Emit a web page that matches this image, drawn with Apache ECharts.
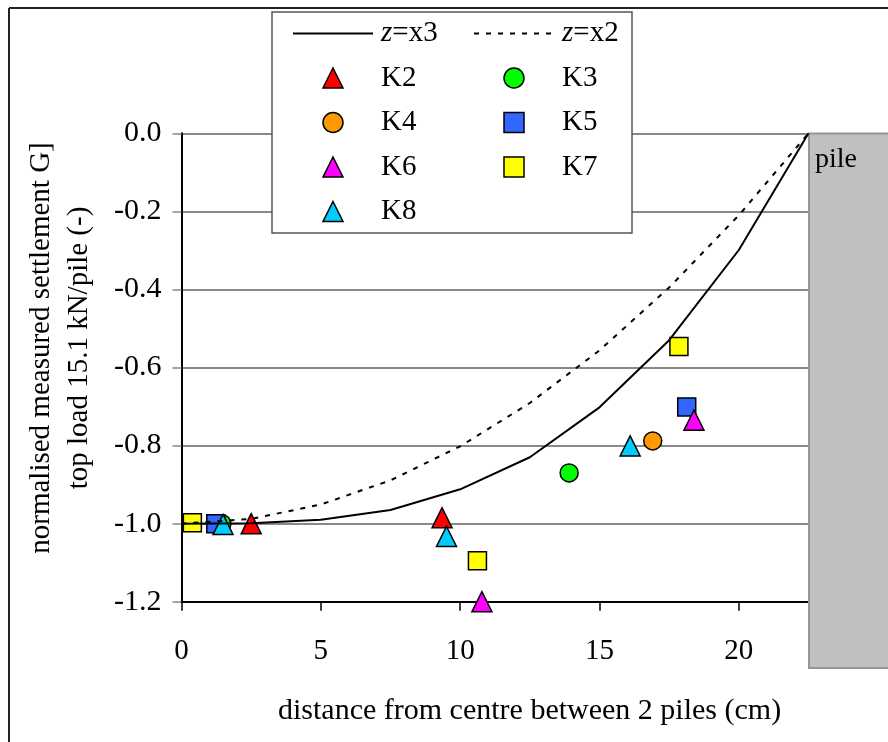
<!DOCTYPE html>
<html>
<head>
<meta charset="utf-8">
<script src="https://cdn.jsdelivr.net/npm/echarts@6/dist/echarts.min.js"></script>
<style>
  html, body { margin: 0; padding: 0; background: #fff; }
  #chart { width: 888px; height: 742px; }
</style>
</head>
<body>
<div id="chart"></div>
<script>
// theoretical curves, normalised settlement vs distance
var curveX = [0, 2.5, 5, 7.5, 10, 12.5, 15, 17.5, 20, 22.5];
var zx3 = [-1.0, -0.999, -0.99, -0.965, -0.912, -0.83, -0.702, -0.53, -0.299, 0.0];
var zx2 = [-1.0, -0.988, -0.951, -0.889, -0.802, -0.691, -0.556, -0.395, -0.21, 0.0];

// measured points [distance, settlement]
var k2 = [[2.5, -1.0], [9.35, -0.985]];
var k3 = [[1.45, -1.0], [13.91, -0.87]];
var k4 = [[16.91, -0.788]];
var k5 = [[1.23, -1.0], [18.13, -0.701]];
var k6 = [[10.78, -1.2], [18.39, -0.735]];
var k7 = [[0.39, -0.998], [10.62, -1.095], [17.85, -0.546]];
var k8 = [[1.49, -1.002], [9.51, -1.033], [16.1, -0.801]];

var xTicks = [0, 5, 10, 15, 20];

var chart = echarts.init(document.getElementById('chart'));

var serif = '"Liberation Serif", "Times New Roman", serif';

// legend icons as paths so they keep their aspect in the wide icon box
var triIcon = 'path://M10,0L20,20L0,20Z';
var sqIcon = 'path://M0,0L20,0L20,20L0,20Z';

function pair(xs, ys) {
  var out = [];
  for (var i = 0; i < xs.length; i++) out.push([xs[i], ys[i]]);
  return out;
}

function pts(name, data, symbol, size, color) {
  return {
    name: name,
    type: 'scatter',
    data: data,
    symbol: symbol,
    symbolSize: size,
    itemStyle: { color: color, borderColor: '#000', borderWidth: 1.5, opacity: 1 },
    emphasis: { disabled: true }
  };
}

var legendText = {
  fontFamily: serif,
  fontSize: 29,
  lineHeight: 28,
  color: '#000',
  padding: [0, 0, 0, 3],
  rich: { i: { fontFamily: serif, fontSize: 29, fontStyle: 'italic', color: '#000' } }
};

function legendFmt(name) {
  if (name.charAt(0) === 'z') return '{i|z}=' + name.slice(2);
  return name;
}

// line entries: hide the default marker, keep the line
function lineItem(name) {
  return { name: name, itemStyle: { opacity: 0, borderWidth: 0 } };
}

function iconItem(name, icon) {
  return { name: name, icon: icon };
}

var option = {
  animation: false,
  backgroundColor: '#fff',
  grid: { left: 181.5, top: 133.3, right: 79.5, bottom: 140.3, containLabel: false },
  legend: [
    {
      orient: 'vertical', left: 292, top: 19, z: 6,
      itemWidth: 80, itemHeight: 20, itemGap: 15.5, padding: 0,
      symbolKeepAspect: true,
      data: [lineItem('z=x3'), iconItem('K2', triIcon), 'K4', iconItem('K6', triIcon), iconItem('K8', triIcon)],
      formatter: legendFmt, textStyle: legendText,
      itemStyle: { borderColor: '#000', borderWidth: 1.5 },
      selectedMode: false
    },
    {
      orient: 'vertical', left: 473, top: 19, z: 6,
      itemWidth: 80, itemHeight: 20, itemGap: 15.5, padding: 0,
      symbolKeepAspect: true,
      data: [lineItem('z=x2'), 'K3', iconItem('K5', sqIcon), iconItem('K7', sqIcon)],
      formatter: legendFmt, textStyle: legendText,
      itemStyle: { borderColor: '#000', borderWidth: 1.5 },
      selectedMode: false
    }
  ],
  xAxis: {
    type: 'value', min: 0, max: 22.5, interval: 5,
    axisLine: { show: true, onZero: false, lineStyle: { color: '#000', width: 2 } },
    axisTick: { show: true, length: 9, customValues: xTicks, lineStyle: { color: '#000', width: 1.5 } },
    axisLabel: { customValues: xTicks, margin: 35, fontFamily: serif, fontSize: 29, color: '#000' },
    splitLine: { show: false }
  },
  yAxis: {
    type: 'value', min: -1.2, max: 0, interval: 0.2,
    axisLine: { show: true, onZero: false, lineStyle: { color: '#000', width: 2 } },
    axisTick: { show: true, length: 9, lineStyle: { color: '#888', width: 1.5 } },
    axisLabel: {
      margin: 20, fontFamily: serif, fontSize: 30, color: '#000',
      formatter: function (v) { return v.toFixed(1); }
    },
    splitLine: { show: true, lineStyle: { color: '#888', width: 2 } }
  },
  series: [
    {
      name: 'z=x3', type: 'line', data: pair(curveX, zx3), symbol: 'none',
      lineStyle: { color: '#000', width: 2 }, itemStyle: { color: '#000' }, silent: true
    },
    {
      name: 'z=x2', type: 'line', data: pair(curveX, zx2), symbol: 'none',
      lineStyle: { color: '#000', width: 2, type: [5, 7] }, itemStyle: { color: '#000' }, silent: true
    },
    pts('K2', k2, 'triangle', 20, '#ff0000'),
    pts('K3', k3, 'circle', 18, '#00ff00'),
    pts('K4', k4, 'circle', 18, '#ff9900'),
    pts('K5', k5, 'rect', 18, '#3366ff'),
    pts('K6', k6, 'triangle', 20, '#ff00ff'),
    pts('K7', k7, 'rect', 18, '#ffff00'),
    pts('K8', k8, 'triangle', 20, '#00ccff')
  ],
  graphic: [
    // outer frame (top and left edges)
    { type: 'line', z: 10, shape: { x1: 9, y1: 8, x2: 888, y2: 8 }, style: { stroke: '#222', lineWidth: 2 } },
    { type: 'line', z: 10, shape: { x1: 9, y1: 8, x2: 9, y2: 742 }, style: { stroke: '#222', lineWidth: 2 } },
    // legend box
    { type: 'rect', z: 3, shape: { x: 272, y: 12, width: 360, height: 221 },
      style: { fill: '#fff', stroke: '#555', lineWidth: 1.5 } },
    // pile
    { type: 'rect', z: 3, shape: { x: 809, y: 133.5, width: 90, height: 534.5 },
      style: { fill: '#c0c0c0', stroke: '#969696', lineWidth: 2 } },
    { type: 'text', z: 4, x: 815, y: 160,
      style: { text: 'pile', fontFamily: serif, fontSize: 28, fill: '#000', align: 'left', verticalAlign: 'middle' } },
    // x axis title
    { type: 'text', z: 4, x: 278, y: 711,
      style: { text: 'distance from centre between 2 piles (cm)', fontFamily: serif, fontSize: 30, fill: '#000',
        align: 'left', verticalAlign: 'middle' } },
    // y axis title
    { type: 'text', z: 4, x: 60, y: 348, rotation: Math.PI / 2,
      style: {
        text: 'normalised measured settlement G]\ntop load 15.1 kN/pile (-)',
        fontFamily: serif, fontSize: 29, lineHeight: 38, fill: '#000',
        align: 'center', verticalAlign: 'middle'
      } }
  ]
};

chart.setOption(option);
</script>
</body>
</html>
